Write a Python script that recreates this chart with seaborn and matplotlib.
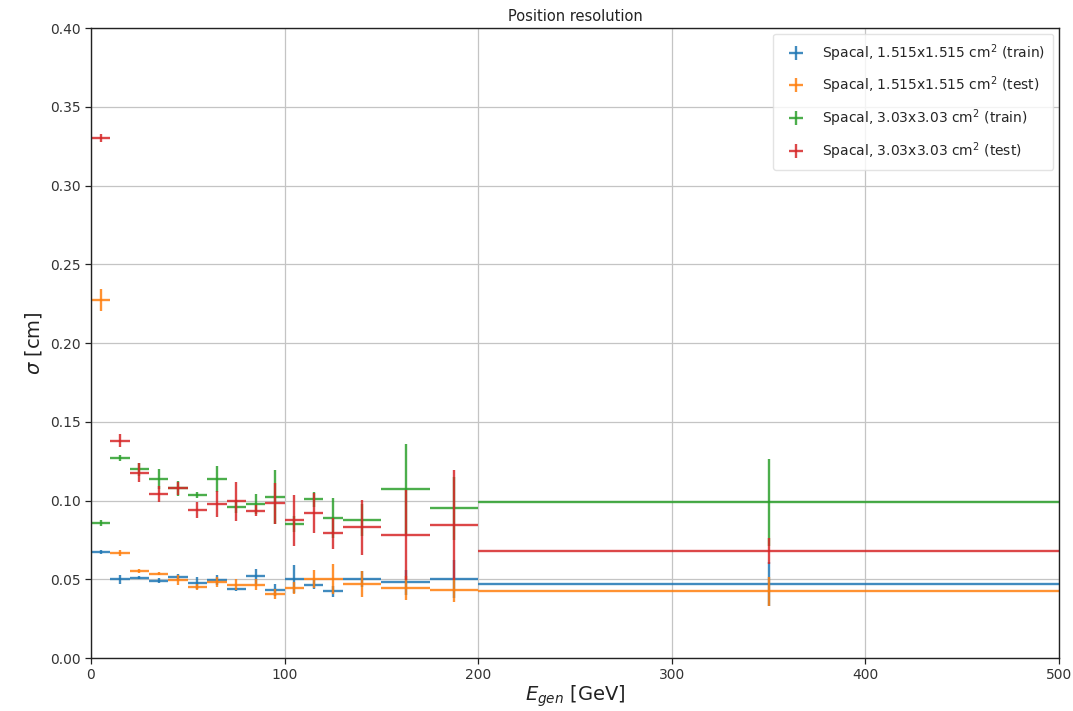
import numpy as np
import matplotlib
matplotlib.use("Agg")
import matplotlib.pyplot as plt
from matplotlib.ticker import StrMethodFormatter
import seaborn as sns

# Energy binning [GeV]
bin_edges = [0, 10, 20, 30, 40, 50, 60, 70, 80, 90, 100, 110, 120, 130, 150, 175, 200, 500]

labels = [
    "Spacal, 1.515x1.515 cm$^2$ (train)",
    "Spacal, 1.515x1.515 cm$^2$ (test)",
    "Spacal, 3.03x3.03 cm$^2$ (train)",
    "Spacal, 3.03x3.03 cm$^2$ (test)",
]

# Position resolution sigma [cm] and its uncertainty per energy bin
sigma_small_train = [0.0673, 0.0500, 0.0510, 0.0490, 0.0515, 0.0478, 0.0495, 0.0436, 0.0520,
                     0.0432, 0.0500, 0.0466, 0.0423, 0.0500, 0.0482, 0.0500, 0.0470]
err_small_train = [0.0015, 0.003, 0.001, 0.0015, 0.002, 0.0037, 0.003, 0.001, 0.0047,
                   0.0038, 0.009, 0.0027, 0.0037, 0.005, 0.008, 0.012, 0.014]

sigma_small_test = [0.2273, 0.0665, 0.0552, 0.0535, 0.0495, 0.0453, 0.0482, 0.0466, 0.0466,
                    0.0406, 0.0444, 0.0500, 0.0500, 0.0470, 0.0444, 0.0432, 0.0423]
err_small_test = [0.007, 0.002, 0.0015, 0.001, 0.003, 0.002, 0.0034, 0.0037, 0.0034,
                  0.0032, 0.0036, 0.0058, 0.0095, 0.0085, 0.0075, 0.0075, 0.009]

sigma_large_train = [0.0859, 0.1272, 0.1198, 0.1134, 0.1077, 0.1033, 0.1134, 0.0961, 0.0978,
                     0.1024, 0.0851, 0.1007, 0.0887, 0.0876, 0.1071, 0.0950, 0.0989]
err_large_train = [0.002, 0.002, 0.004, 0.0063, 0.005, 0.002, 0.0083, 0.004, 0.0066,
                   0.017, 0.005, 0.005, 0.0127, 0.010, 0.0286, 0.020, 0.0275]

sigma_large_test = [0.3304, 0.1380, 0.1177, 0.1041, 0.1077, 0.0940, 0.0978, 0.0995, 0.0935,
                    0.0982, 0.0876, 0.0923, 0.0792, 0.0830, 0.0781, 0.0846, 0.0679]
err_large_test = [0.0025, 0.004, 0.006, 0.005, 0.004, 0.005, 0.0085, 0.0124, 0.0035,
                  0.0129, 0.0162, 0.0127, 0.0097, 0.0175, 0.0286, 0.035, 0.008]

sns.set_theme(style="ticks", palette="tab10")
plt.rcParams["font.family"] = ["DejaVu Sans"]

edges = np.array(bin_edges, dtype=float)
centers = 0.5 * (edges[:-1] + edges[1:])
half_widths = 0.5 * (edges[1:] - edges[:-1])

fig = plt.figure(figsize=(10.73, 7.11), dpi=100)
ax = fig.add_axes([0.0848, 0.0745, 0.9022, 0.8861])

colors = sns.color_palette("tab10", 4)
series = [
    (sigma_small_train, err_small_train),
    (sigma_small_test, err_small_test),
    (sigma_large_train, err_large_train),
    (sigma_large_test, err_large_test),
]
for (vals, errs), lab, col in zip(series, labels, colors):
    ax.errorbar(centers, vals, xerr=half_widths, yerr=errs, fmt="none",
                ecolor=col, elinewidth=1.7, alpha=0.85, label=lab)

ax.set_xlim(0, 500)
ax.set_ylim(0, 0.40)
ax.set_xticks(np.arange(0, 501, 100))
ax.set_yticks(np.arange(0, 0.401, 0.05))
ax.yaxis.set_major_formatter(StrMethodFormatter("{x:.2f}"))
ax.grid(True, color="#c4c4c4", linewidth=0.9)
ax.tick_params(labelsize=10, length=4, width=0.9, color="#222222", labelcolor="#333333")
for s in ax.spines.values():
    s.set_color("#222222")
    s.set_linewidth(1.0)

ax.set_title("Position resolution", fontsize=10.5, color="#222222", pad=5)
ax.set_xlabel("$E_{gen}$ [GeV]", fontsize=14, color="#222222", labelpad=1)
ax.set_ylabel("$\\sigma$ [cm]", fontsize=14, color="#222222")

leg = ax.legend(loc="upper right", fontsize=10, frameon=True, borderpad=0.6,
                labelspacing=0.8, handletextpad=0.9, borderaxespad=0.4)
leg.get_frame().set_edgecolor("#dddddd")

fig.savefig("out.png", dpi=100)
